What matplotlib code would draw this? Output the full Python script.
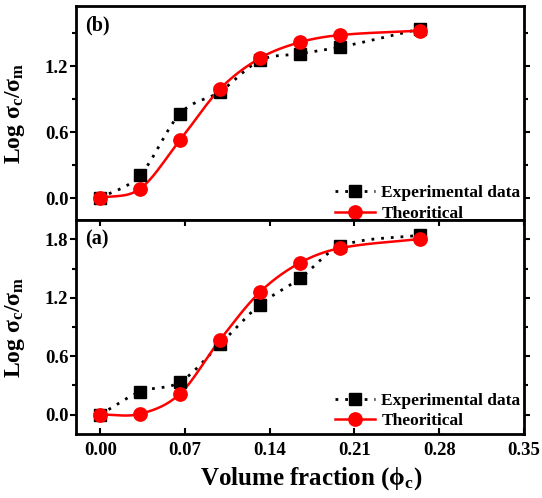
import numpy as np
import matplotlib
matplotlib.use("Agg")
import matplotlib.pyplot as plt
from matplotlib.ticker import MultipleLocator

plt.rcParams['font.family'] = ['Liberation Serif', 'DejaVu Serif']
plt.rcParams['font.weight'] = 'bold'
plt.rcParams['mathtext.fontset'] = 'custom'
plt.rcParams['mathtext.rm'] = 'Liberation Serif:bold'
plt.rcParams['mathtext.it'] = 'Liberation Serif:bold'
plt.rcParams['mathtext.bf'] = 'Liberation Serif:bold'

# Data
phi = [0.0, 0.033, 0.066, 0.099, 0.132, 0.165, 0.198, 0.264]
exp_b = [0.0, 0.21, 0.77, 0.97, 1.255, 1.315, 1.375, 1.54]
theo_b = [0.0, 0.085, 0.53, 0.995, 1.275, 1.42, 1.485, 1.525]
exp_a = [0.0, 0.235, 0.335, 0.725, 1.13, 1.40, 1.73, 1.845]
theo_a = [0.0, 0.007, 0.215, 0.77, 1.26, 1.56, 1.71, 1.805]
xticks = [0.00, 0.07, 0.14, 0.21, 0.28, 0.35]


def smooth(x, y, n=300):
    """Cubic Hermite curve through the points (centred-difference tangents)."""
    x = np.asarray(x, float); y = np.asarray(y, float)
    k = len(x); h = np.diff(x)
    d = np.zeros(k)
    d[1:-1] = (y[2:] - y[:-2]) / (x[2:] - x[:-2])
    d[0] = (y[1] - y[0]) / h[0]
    d[-1] = (y[-1] - y[-2]) / h[-1]
    xs = np.linspace(x[0], x[-1], n)
    idx = np.clip(np.searchsorted(x, xs) - 1, 0, k - 2)
    t = (xs - x[idx]) / h[idx]
    h00 = 2 * t ** 3 - 3 * t ** 2 + 1; h10 = t ** 3 - 2 * t ** 2 + t
    h01 = -2 * t ** 3 + 3 * t ** 2; h11 = t ** 3 - t ** 2
    ys = h00 * y[idx] + h10 * h[idx] * d[idx] + h01 * y[idx + 1] + h11 * h[idx] * d[idx + 1]
    return xs, ys


fig = plt.figure(figsize=(5.42, 4.98), dpi=100)
L, R = 76, 524
W = R - L
ax_b = fig.add_axes([L / 542, (498 - 220) / 498, W / 542, 214 / 498])
ax_a = fig.add_axes([L / 542, (498 - 434) / 498, W / 542, 214 / 498])

DOT = (0, (1, 2.5))


def draw(ax, ye, yt, ylim, yticks, label, leg_y):
    xs, ys = smooth(phi, ye)
    ax.plot(xs, ys, color='black', lw=2, ls=DOT, zorder=2)
    xs2, ys2 = smooth(phi, yt)
    ax.plot(xs2, ys2, color='red', lw=1.8, zorder=3)
    ax.plot(phi, ye, ls='none', marker='s', ms=8.6, color='black', zorder=4)
    ax.plot(phi, yt, ls='none', marker='o', ms=9.6, color='red', zorder=5)
    h1, = ax.plot([], [], color='black', lw=2, ls=DOT, marker='s', ms=8.6)
    h2, = ax.plot([], [], color='red', lw=1.8, marker='o', ms=9.6)
    ax.legend([h1, h2], ['Experimental data', 'Theoritical'], loc='lower right',
              bbox_to_anchor=(1.0, leg_y), frameon=False, handlelength=2.3,
              handletextpad=0.35, borderaxespad=0.0, borderpad=0.2, labelspacing=0.27,
              prop={'weight': 'bold', 'size': 12.5})
    ax.set_xlim(-0.02, 0.35)
    ax.set_ylim(*ylim)
    ax.set_yticks(yticks)
    ax.yaxis.set_minor_locator(MultipleLocator(0.3))
    ax.set_xticks(xticks)
    for s in ax.spines.values():
        s.set_linewidth(2)
    ax.tick_params(axis='y', which='both', direction='out', left=True, right=True,
                   labelsize=13.5, width=1.5, pad=1.5)
    ax.tick_params(axis='y', which='major', length=4)
    ax.tick_params(axis='y', which='minor', length=3)
    ax.text(9 / W, 0.955, label, transform=ax.transAxes, fontsize=14.5, fontweight='bold',
            va='top', ha='left')
    ax.set_ylabel('Log σ$_\\mathrm{c}$/σ$_\\mathrm{m}$', fontsize=17, fontweight='bold')
    ax.yaxis.set_label_coords((27 - L) / W, 0.5)


draw(ax_b, exp_b, theo_b, (-0.2, 1.75), [0.0, 0.6, 1.2], '(b)', -0.025)
draw(ax_a, exp_a, theo_a, (-0.2, 2.0), [0.0, 0.6, 1.2, 1.8], '(a)', 0.005)

ax_b.tick_params(axis='x', which='both', bottom=False, top=False, labelbottom=False)
ax_a.tick_params(axis='x', which='both', direction='in', length=4, width=1.5,
                 labelsize=13.5, bottom=True, top=True, pad=6)
ax_a.set_xticklabels(['%.2f' % t for t in xticks])
ax_a.set_xlabel('Volume fraction (ϕ$_\\mathrm{c}$)', fontsize=18, fontweight='bold')
ax_a.xaxis.set_label_coords((311 - L) / W, -0.145)

fig.savefig('out.png', dpi=100)
